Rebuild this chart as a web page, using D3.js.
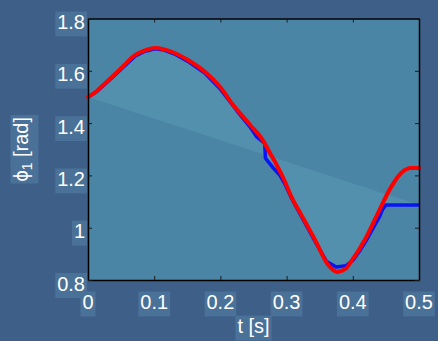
<!DOCTYPE html>
<html>
<head>
<meta charset="utf-8">
<script src="https://cdn.jsdelivr.net/npm/d3@7"></script>
<style>
  body { margin: 0; background: #3d5f88; }
  svg { display: block; font-family: 'Liberation Sans', Arial, sans-serif; }
</style>
</head>
<body>
<svg id="viz"></svg>
<script>
// reference trajectory (red)
const tRef = [0, 0.012, 0.026, 0.05, 0.071, 0.085, 0.101, 0.115, 0.131, 0.151, 0.177, 0.2, 0.219, 0.245, 0.264, 0.275, 0.285, 0.295, 0.308, 0.322, 0.343, 0.363, 0.376, 0.39, 0.397, 0.418, 0.438, 0.458, 0.473, 0.488, 0.5];
const phiRef = [1.5, 1.52, 1.553, 1.61, 1.66, 1.677, 1.687, 1.682, 1.668, 1.641, 1.595, 1.537, 1.47, 1.393, 1.335, 1.285, 1.24, 1.19, 1.114, 1.05, 0.953, 0.857, 0.831, 0.845, 0.869, 0.953, 1.056, 1.156, 1.209, 1.228, 1.228];

// measured trajectory (blue)
const tAct = [0, 0.012, 0.026, 0.05, 0.071, 0.085, 0.101, 0.115, 0.131, 0.151, 0.177, 0.2, 0.225, 0.245, 0.255, 0.267, 0.268, 0.28, 0.29, 0.297, 0.308, 0.322, 0.343, 0.36, 0.375, 0.39, 0.4, 0.41, 0.42, 0.43, 0.44, 0.445, 0.45, 0.5];
const phiAct = [1.5, 1.518, 1.55, 1.606, 1.656, 1.674, 1.684, 1.679, 1.664, 1.636, 1.59, 1.53, 1.447, 1.385, 1.347, 1.322, 1.266, 1.228, 1.2, 1.17, 1.11, 1.045, 0.948, 0.872, 0.85, 0.855, 0.875, 0.91, 0.95, 0.995, 1.04, 1.07, 1.087, 1.087];

const xTicks = [0, 0.1, 0.2, 0.3, 0.4, 0.5];
const yTicks = [0.8, 1, 1.2, 1.4, 1.6, 1.8];

const W = 438, H = 341;
const margin = { left: 88, right: 19, top: 18.5, bottom: 61 };

const svg = d3.select('#viz').attr('width', W).attr('height', H);
svg.append('rect').attr('width', W).attr('height', H).attr('fill', '#3d5f88');

const x = d3.scaleLinear().domain([0, 0.5]).range([margin.left, W - margin.right]);
const y = d3.scaleLinear().domain([0.8, 1.8]).range([H - margin.bottom, margin.top]);

const refPts = tRef.map((t, i) => [t, phiRef[i]]);
const actPts = tAct.map((t, i) => [t, phiAct[i]]);

// plot background
svg.append('rect')
  .attr('x', x(0)).attr('y', y(1.8))
  .attr('width', x(0.5) - x(0)).attr('height', y(0.8) - y(1.8))
  .attr('fill', '#4b85a5');

const line = d3.line().x(d => x(d[0])).y(d => y(d[1]));

// lighter patch: measured curve closed back to its start
svg.append('path')
  .attr('d', line(actPts) + 'Z')
  .attr('fill', '#5290ae')
  .attr('fill-rule', 'evenodd');

svg.append('path')
  .attr('d', line(actPts))
  .attr('fill', 'none').attr('stroke', '#0a14f5').attr('stroke-width', 3.5)
  .attr('stroke-linejoin', 'round');

svg.append('path')
  .attr('d', line.curve(d3.curveMonotoneX)(refPts))
  .attr('fill', 'none').attr('stroke', '#ff0000').attr('stroke-width', 4)
  .attr('stroke-linejoin', 'round').attr('stroke-linecap', 'round');

// box axes with inward ticks
const tl = 4;
svg.append('g').attr('transform', `translate(0,${y(0.8)})`)
  .call(d3.axisBottom(x).tickValues(xTicks).tickSizeInner(-tl).tickSizeOuter(0).tickFormat(''));
svg.append('g').attr('transform', `translate(0,${y(1.8)})`)
  .call(d3.axisTop(x).tickValues(xTicks).tickSizeInner(-tl).tickSizeOuter(0).tickFormat(''));
svg.append('g').attr('transform', `translate(${x(0)},0)`)
  .call(d3.axisLeft(y).tickValues(yTicks).tickSizeInner(-tl).tickSizeOuter(0).tickFormat(''));
svg.append('g').attr('transform', `translate(${x(0.5)},0)`)
  .call(d3.axisRight(y).tickValues(yTicks).tickSizeInner(-tl).tickSizeOuter(0).tickFormat(''));
svg.selectAll('.domain').attr('stroke', '#000').attr('stroke-width', 1.5);
svg.selectAll('.tick line').attr('stroke', '#1a1a1a');

// labels with a faint box behind each
function boxedText(px, py, str, anchor) {
  const g = svg.append('g');
  const r = g.append('rect').attr('fill', '#4a7197');
  const t = g.append('text').attr('x', px).attr('y', py)
    .attr('text-anchor', anchor).attr('fill', '#fff').attr('font-size', 20).text(str);
  const b = t.node().getBBox();
  r.attr('x', b.x - 2).attr('y', b.y + 0.5).attr('width', b.width + 4).attr('height', b.height + 3);
  return g;
}

yTicks.forEach(v => boxedText(x(0) - 3, y(v) + 10.5, d3.format('')(v), 'end'));
xTicks.forEach(v => boxedText(x(v), y(0.8) + 29, d3.format('')(v), 'middle'));
boxedText((x(0) + x(0.5)) / 2, 333, 't [s]', 'middle');

// y label, rotated
const yl = svg.append('g').attr('transform', `translate(28,${(y(0.8) + y(1.8)) / 2}) rotate(-90)`);
const ylr = yl.append('g');
const ylt = yl.append('text').attr('text-anchor', 'middle').attr('fill', '#fff').attr('font-size', 20);
ylt.append('tspan').text('ϕ');
ylt.append('tspan').attr('font-size', 14).attr('dy', 4).text('1');
ylt.append('tspan').attr('dy', -4).text(' [rad]');
const yb = ylt.node().getBBox();
ylr.append('rect').attr('x', yb.x - 2).attr('y', yb.y + 0.5)
  .attr('width', yb.width + 4).attr('height', yb.height + 3).attr('fill', '#4a7197');
</script>
</body>
</html>
